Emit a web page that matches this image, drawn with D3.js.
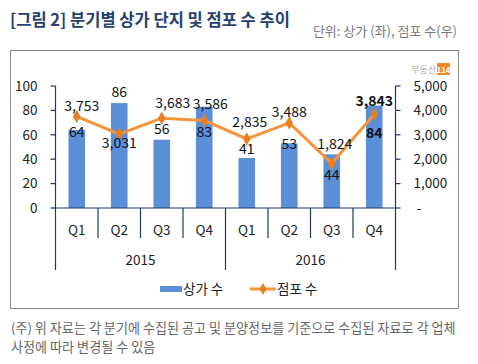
<!DOCTYPE html>
<meta charset="utf-8">
<title>분기별 상가 단지 및 점포 수 추이</title>
<style>
  body { margin: 0; background: #fff; }
  text { font-family: "Noto Sans CJK KR", "Noto Sans", sans-serif; }
  .tick-label { font-size: 13.5px; fill: #222; }
  .axis-line { stroke: #1f3864; stroke-width: 1.2px; }
</style>
<body>
<script src="https://cdnjs.cloudflare.com/ajax/libs/d3/7.8.5/d3.min.js"></script>
<script>

var quarters = ["Q1", "Q2", "Q3", "Q4", "Q1", "Q2", "Q3", "Q4"];
var years = ["2015", "2016"];
var stores = [64, 86, 56, 83, 41, 53, 44, 84];          // 상가 수 (left)
var shops = [3753, 3031, 3683, 3586, 2835, 3488, 1824, 3843]; // 점포 수 (right)
var leftTicks = [0, 20, 40, 60, 80, 100];
var rightTicks = [0, 1000, 2000, 3000, 4000, 5000];

// manual label nudges (like the hand-placed excel labels)
var barLabelOff = [[0, 2], [0, -11], [0, -11], [0, 25], [0, -9], [0, 1], [0, 21], [0, 28]];
var lineLabelOff = [[5, -10], [0, 9], [11, -15], [6, -16], [3, -17], [0, -11], [3, -19], [0, -13]];

var width = 478, height = 364;
var plotL = 55.5, plotR = 395.5, plotT = 86, plotB = 208;

var svg = d3.select("body").append("svg")
  .attr("width", width)
  .attr("height", height);

// title + units
svg.append("text")
  .attr("x", 10).attr("y", 26)
  .attr("font-size", 16.5).attr("font-weight", "bold")
  .attr("fill", "#26416f")
  .text("[그림 2] 분기별 상가 단지 및 점포 수 추이");

svg.append("text")
  .attr("x", 457).attr("y", 36)
  .attr("text-anchor", "end")
  .attr("font-size", 13).attr("fill", "#777")
  .text("단위: 상가 (좌), 점포 수(우)");

// frame
svg.append("rect")
  .attr("x", 10.5).attr("y", 50.5)
  .attr("width", 448).attr("height", 258)
  .attr("fill", "none").attr("stroke", "#8a8a8a");

// logo
svg.append("text")
  .attr("x", 436).attr("y", 73)
  .attr("text-anchor", "end")
  .attr("font-size", 9).attr("fill", "#aaa")
  .text("부동산");
svg.append("rect")
  .attr("x", 437).attr("y", 63).attr("width", 13).attr("height", 12)
  .attr("fill", "#f08a24");
svg.append("text")
  .attr("x", 443.5).attr("y", 72.5)
  .attr("text-anchor", "middle")
  .attr("font-size", 8).attr("font-weight", "bold").attr("fill", "#fff")
  .text("114");

var x = d3.scaleBand()
  .domain(d3.range(quarters.length))
  .range([plotL, plotR])
  .padding(0);

var yL = d3.scaleLinear().domain([0, 100]).range([plotB, plotT]);
var yR = d3.scaleLinear().domain([0, 5000]).range([plotB, plotT]);

var barW = x.bandwidth() * 0.39;
var cx = function(i) { return x(i) + x.bandwidth() / 2; };

// bars
svg.selectAll(".bar").data(stores).enter().append("rect")
  .attr("class", "bar")
  .attr("x", function(d, i) { return cx(i) - barW / 2; })
  .attr("y", function(d) { return yL(d); })
  .attr("width", barW)
  .attr("height", function(d) { return plotB - yL(d); })
  .attr("fill", "#5b8fd8");

// left axis
var gl = svg.append("g").attr("transform", "translate(" + plotL + ",0)");
gl.append("line").attr("class", "axis-line").attr("y1", plotT).attr("y2", plotB);
gl.selectAll(".t").data(leftTicks).enter().append("line")
  .attr("class", "axis-line")
  .attr("x1", -5).attr("x2", 0)
  .attr("y1", function(d) { return yL(d); })
  .attr("y2", function(d) { return yL(d); });
gl.selectAll(".tl").data(leftTicks).enter().append("text")
  .attr("class", "tick-label")
  .attr("x", -18)
  .attr("y", function(d) { return yL(d); })
  .attr("dy", "0.35em")
  .attr("text-anchor", "end")
  .text(function(d) { return d; });

// right axis
var gr = svg.append("g").attr("transform", "translate(" + plotR + ",0)");
gr.append("line").attr("class", "axis-line").attr("y1", plotT).attr("y2", plotB);
gr.selectAll(".t").data(rightTicks).enter().append("line")
  .attr("class", "axis-line")
  .attr("x1", 0).attr("x2", 5)
  .attr("y1", function(d) { return yR(d); })
  .attr("y2", function(d) { return yR(d); });
gr.selectAll(".tl").data(rightTicks).enter().append("text")
  .attr("class", "tick-label")
  .attr("x", function(d) { return d === 0 ? 21 : 18; })
  .attr("y", function(d) { return yR(d); })
  .attr("dy", "0.35em")
  .text(function(d) { return d === 0 ? "-" : d3.format(",")(d); });

// category axis
svg.append("line").attr("class", "axis-line")
  .attr("x1", plotL).attr("x2", plotR).attr("y1", plotB).attr("y2", plotB);
svg.selectAll(".qsep").data(d3.range(quarters.length + 1)).enter().append("line")
  .attr("class", "axis-line")
  .attr("x1", function(i) { return i < quarters.length ? x(i) : plotR; })
  .attr("x2", function(i) { return i < quarters.length ? x(i) : plotR; })
  .attr("y1", plotB)
  .attr("y2", function(i) { return i % 4 === 0 ? 270 : 238; });
svg.selectAll(".ql").data(quarters).enter().append("text")
  .attr("class", "tick-label")
  .attr("x", function(d, i) { return cx(i); })
  .attr("y", 230).attr("dy", "0.35em")
  .attr("text-anchor", "middle")
  .text(function(d) { return d; });
svg.selectAll(".yl").data(years).enter().append("text")
  .attr("class", "tick-label")
  .attr("x", function(d, i) { return (x(i * 4) + (i === years.length - 1 ? plotR : x(i * 4 + 4))) / 2; })
  .attr("y", 260).attr("dy", "0.35em")
  .attr("text-anchor", "middle")
  .text(function(d) { return d; });

// line
var line = d3.line()
  .x(function(d, i) { return cx(i); })
  .y(function(d) { return yR(d); });
svg.append("path").datum(shops)
  .attr("d", line)
  .attr("fill", "none")
  .attr("stroke", "#f5943a")
  .attr("stroke-width", 3)
  .attr("stroke-linejoin", "round");
svg.selectAll(".mk").data(shops).enter().append("path")
  .attr("d", d3.symbol().type(d3.symbolDiamond).size(50))
  .attr("transform", function(d, i) { return "translate(" + cx(i) + "," + yR(d) + ")"; })
  .attr("fill", "#e8801f");

// bar labels
svg.selectAll(".bl").data(stores).enter().append("text")
  .attr("x", function(d, i) { return cx(i) + barLabelOff[i][0]; })
  .attr("y", function(d, i) { return yL(d) + barLabelOff[i][1]; })
  .attr("dy", "0.35em")
  .attr("text-anchor", "middle")
  .attr("font-size", 14)
  .attr("font-weight", function(d, i) { return i === stores.length - 1 ? "bold" : "normal"; })
  .attr("fill", "#111")
  .text(function(d) { return d; });

// line labels
svg.selectAll(".ll").data(shops).enter().append("text")
  .attr("x", function(d, i) { return cx(i) + lineLabelOff[i][0]; })
  .attr("y", function(d, i) { return yR(d) + lineLabelOff[i][1]; })
  .attr("dy", "0.35em")
  .attr("text-anchor", "middle")
  .attr("font-size", 14)
  .attr("font-weight", function(d, i) { return i === shops.length - 1 ? "bold" : "normal"; })
  .attr("fill", "#111")
  .text(function(d) { return d3.format(",")(d); });

// legend
var lg = svg.append("g");
lg.append("rect").attr("x", 160).attr("y", 286).attr("width", 22).attr("height", 6).attr("fill", "#5b8fd8");
lg.append("text").attr("class", "tick-label").attr("x", 183).attr("y", 289).attr("dy", "0.35em").text("상가 수");
lg.append("line").attr("x1", 250).attr("x2", 276).attr("y1", 289).attr("y2", 289)
  .attr("stroke", "#f5943a").attr("stroke-width", 3);
lg.append("path").attr("d", d3.symbol().type(d3.symbolDiamond).size(40))
  .attr("transform", "translate(263,289)").attr("fill", "#e8801f");
lg.append("text").attr("class", "tick-label").attr("x", 277).attr("y", 289).attr("dy", "0.35em").text("점포 수");

// footnote
var notes = ["(주) 위 자료는 각 분기에 수집된 공고 및 분양정보를 기준으로 수집된 자료로 각 업체",
             "사정에 따라 변경될 수 있음"];
svg.selectAll(".note").data(notes).enter().append("text")
  .attr("x", 11)
  .attr("y", function(d, i) { return 333 + i * 19; })
  .attr("font-size", 13.1)
  .attr("fill", "#666")
  .text(function(d) { return d; });

</script>
</body>
